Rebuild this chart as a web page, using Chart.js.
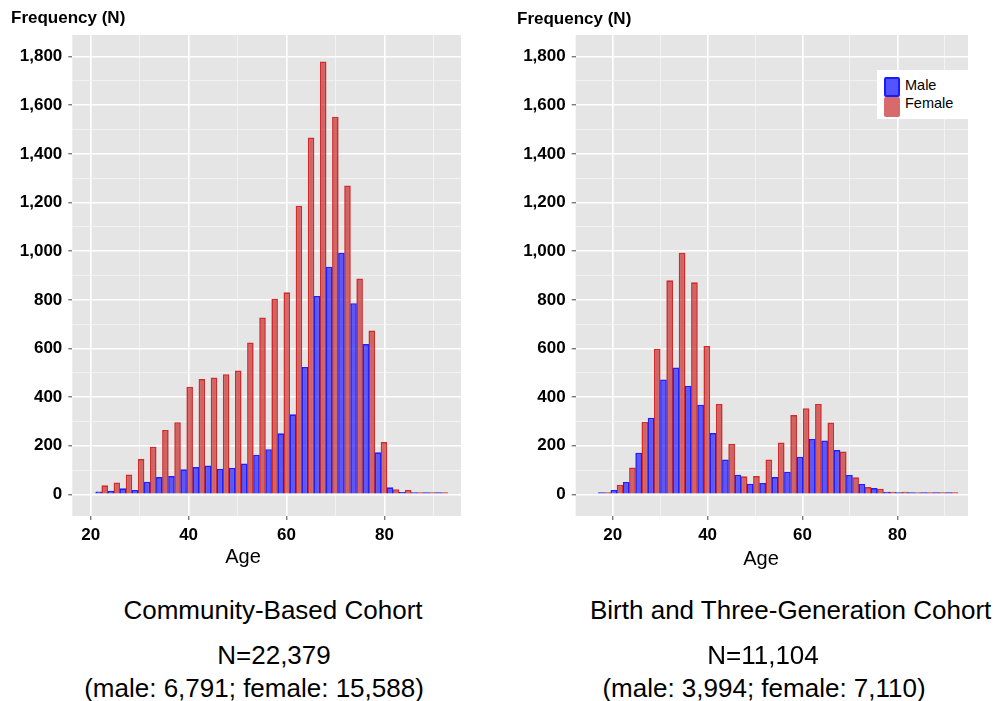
<!DOCTYPE html>
<html>
<head>
<meta charset="utf-8">
<script src="https://cdn.jsdelivr.net/npm/chart.js@4.4.1/dist/chart.umd.min.js"></script>
<style>
html,body{margin:0;padding:0;background:#fff;}
body{width:1004px;height:701px;position:relative;overflow:hidden;font-family:"Liberation Sans",Arial,sans-serif;}
canvas{position:absolute;top:0;}
.t{position:absolute;white-space:nowrap;color:#000;}
.c{transform:translateX(-50%);}
.ft{font-weight:bold;font-size:17px;line-height:17px;}
.age{font-size:20px;line-height:20px;}
.cap{font-size:26px;line-height:26px;}
#legend{position:absolute;left:877px;top:70px;width:91px;height:49px;background:#fff;}
.key{position:absolute;left:7px;width:16px;height:20px;box-sizing:border-box;border-radius:2px;}
.lt{position:absolute;left:28px;font-size:14.5px;line-height:15px;white-space:nowrap;}
</style>
</head>
<body>
<canvas id="c1" width="490" height="560" style="left:0px"></canvas>
<canvas id="c2" width="504" height="560" style="left:500px"></canvas>

<div class="t ft" style="left:11px;top:9px;">Frequency (N)</div>
<div class="t ft" style="left:517px;top:10px;">Frequency (N)</div>
<div class="t age c" style="left:243px;top:546px;">Age</div>
<div class="t age c" style="left:761px;top:548px;">Age</div>

<div id="legend">
  <div class="key" style="top:7px;background:rgba(40,40,255,0.8);border:2px solid #1a1aff;"></div>
  <div class="key" style="top:27px;background:#d76a6a;"></div>
  <div class="lt" style="top:8px;">Male</div>
  <div class="lt" style="top:26px;">Female</div>
</div>

<div class="t cap c" style="left:273px;top:597px;">Community-Based Cohort</div>
<div class="t cap c" style="left:274px;top:642px;">N=22,379</div>
<div class="t cap c" style="left:254px;top:675px;">(male: 6,791; female: 15,588)</div>
<div class="t cap" style="left:590px;top:597px;">Birth and Three-Generation Cohort</div>
<div class="t cap c" style="left:763px;top:642px;">N=11,104</div>
<div class="t cap c" style="left:764px;top:675px;">(male: 3,994; female: 7,110)</div>

<script>
// ---------- data ----------
// Community-Based Cohort: age-bin centres and counts
const leftAges = [22.24, 24.72, 27.20, 29.68, 32.16, 34.64, 37.12, 39.60, 42.08, 44.56,
                  47.04, 49.52, 52.00, 54.48, 56.96, 59.44, 61.92, 64.40, 66.88, 69.36,
                  71.84, 74.32, 76.80, 79.28, 81.76, 84.24, 86.72, 89.20, 91.68];
const leftMale = [12, 15, 25, 18, 52, 71, 75, 103, 112, 119,
                  105, 109, 127, 163, 186, 251, 329, 524, 816, 936,
                  994, 786, 618, 173, 29, 10, 7, 3, 2];
const leftFemale = [37, 49, 82, 145, 196, 265, 297, 443, 474, 481,
                    494, 509, 624, 727, 804, 831, 1187, 1467, 1780, 1553,
                    1270, 888, 674, 215, 21, 18, 5, 2, 1];

// Birth and Three-Generation Cohort: age-bin centres and counts
const rightAges = [18.28, 20.89, 23.51, 26.12, 28.73, 31.35, 33.96, 36.57, 39.18, 41.80,
                   44.41, 47.02, 49.64, 52.25, 54.86, 57.48, 60.09, 62.70, 65.31, 67.93,
                   70.54, 73.15, 75.77, 78.38, 80.99, 83.61, 86.22, 88.83, 91.44];
const rightMale = [3, 18, 51, 171, 315, 472, 522, 447, 369, 252,
                   143, 81, 44, 47, 71, 93, 155, 228, 221, 182,
                   80, 43, 26, 11, 5, 5, 5, 3, 3];
const rightFemale = [2, 40, 110, 298, 599, 880, 994, 872, 610, 372,
                     208, 74, 75, 143, 213, 326, 354, 372, 296, 176,
                     70, 30, 23, 11, 11, 9, 4, 5, 2];

// tick labels
const yMajorTicks = [0, 200, 400, 600, 800, 1000, 1200, 1400, 1600, 1800];
const yMinorTicks = [100, 300, 500, 700, 900, 1100, 1300, 1500, 1700];
const xMajorTicks = [20, 40, 60, 80];
const xMinorTicks = [30, 50, 70, 90];

// ---------- drawing ----------
const FONT = '"Liberation Sans", Arial, sans-serif';
const panelBg = {
  id: 'panelBg',
  beforeDraw(chart) {
    const {ctx, chartArea: a} = chart;
    ctx.save();
    ctx.fillStyle = '#E5E5E5';
    ctx.fillRect(a.left, a.top, a.right - a.left, a.bottom - a.top);
    ctx.restore();
  }
};

function toPoints(xs, ys) { return xs.map((x, i) => ({x: x, y: ys[i]})); }
function isMajor(list, v) { return list.indexOf(v) !== -1; }

function makeChart(id, ages, male, female, cfg) {
  const yAll = yMajorTicks.concat(yMinorTicks).sort((a, b) => a - b);
  const xAll = xMajorTicks.concat(xMinorTicks).sort((a, b) => a - b);
  return new Chart(document.getElementById(id), {
    type: 'bar',
    data: {
      datasets: [
        {label: 'Male', data: toPoints(ages, male),
         backgroundColor: 'rgba(10,0,255,0.62)', borderColor: '#1f1fff', borderWidth: 1.6,
         categoryPercentage: 1, barPercentage: 1.08, minBarLength: 2},
        {label: 'Female', data: toPoints(ages, female),
         backgroundColor: 'rgba(195,30,30,0.65)', borderColor: '#d42a2a', borderWidth: 1.6,
         categoryPercentage: 1, barPercentage: 1.08, minBarLength: 2}
      ]
    },
    options: {
      responsive: false,
      animation: false,
      layout: {padding: {left: 0, top: 35, right: cfg.padRight, bottom: 14}},
      plugins: {legend: {display: false}, tooltip: {enabled: false}, title: {display: false}},
      scales: {
        x: {
          type: 'linear', min: cfg.xMin, max: cfg.xMax, offset: false,
          afterFit(s) { s.height = 30; },
          afterBuildTicks(s) { s.ticks = xAll.map(v => ({value: v})); },
          border: {display: false},
          grid: {
            offset: false,
            color: c => isMajor(xMajorTicks, c.tick.value) ? '#ffffff' : '#f3f3f3',
            lineWidth: c => isMajor(xMajorTicks, c.tick.value) ? 1.6 : 0.9,
            tickColor: c => isMajor(xMajorTicks, c.tick.value) ? '#444' : 'rgba(0,0,0,0)',
            tickWidth: 1, tickLength: 4, drawTicks: true
          },
          ticks: {
            autoSkip: false, maxRotation: 0, minRotation: 0, padding: 5, color: '#000',
            font: {family: FONT, size: 17, weight: 'bold'},
            callback: v => isMajor(xMajorTicks, v) ? String(v) : ''
          }
        },
        y: {
          min: -89, max: 1889,
          afterFit(s) { s.width = cfg.yWidth; },
          afterBuildTicks(s) { s.ticks = yAll.map(v => ({value: v})); },
          border: {display: false},
          grid: {
            color: c => isMajor(yMajorTicks, c.tick.value) ? '#ffffff' : '#f3f3f3',
            lineWidth: c => isMajor(yMajorTicks, c.tick.value) ? 1.6 : 0.9,
            tickColor: c => isMajor(yMajorTicks, c.tick.value) ? '#444' : 'rgba(0,0,0,0)',
            tickWidth: 1, tickLength: 4, drawTicks: true
          },
          ticks: {
            autoSkip: false, padding: 6, color: '#000',
            font: {family: FONT, size: 17, weight: 'bold'},
            callback: v => isMajor(yMajorTicks, v) ? v.toLocaleString('en-US') : ''
          }
        }
      }
    },
    plugins: [panelBg]
  });
}

makeChart('c1', leftAges, leftMale, leftFemale, {xMin: 16.24, xMax: 95.65, yWidth: 72.3, padRight: 29});
makeChart('c2', rightAges, rightMale, rightFemale, {xMin: 12.2, xMax: 94.88, yWidth: 75.7, padRight: 36});
</script>
</body>
</html>
